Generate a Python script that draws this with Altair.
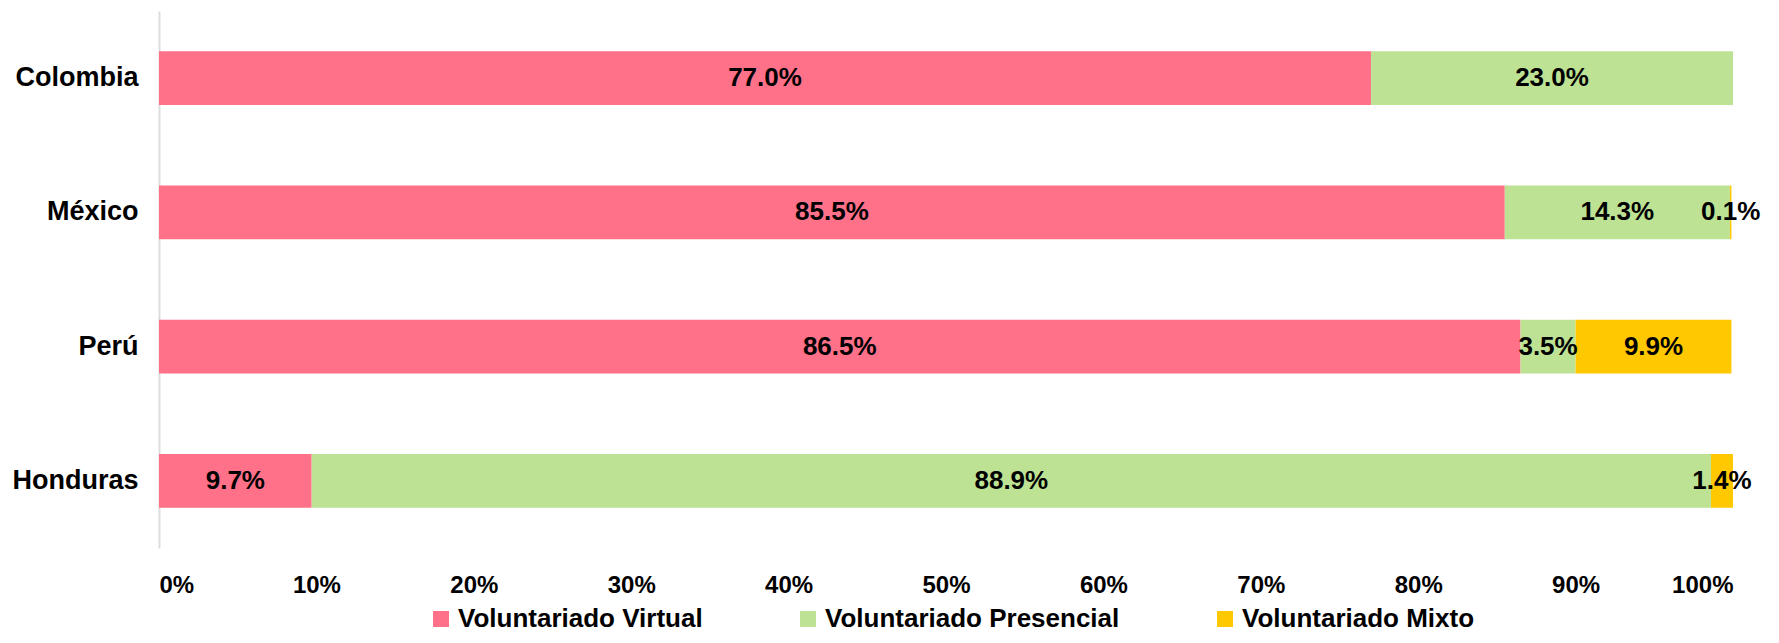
import altair as alt
import pandas as pd

countries = ["Colombia", "México", "Perú", "Honduras"]
series = ["Voluntariado Virtual", "Voluntariado Presencial", "Voluntariado Mixto"]
virtual = [77.0, 85.5, 86.5, 9.7]
presencial = [23.0, 14.3, 3.5, 88.9]
mixto = [0.0, 0.1, 9.9, 1.4]
colors = ["#FF7189", "#BDE294", "#FFC800"]
tick_values = [0, 10, 20, 30, 40, 50, 60, 70, 80, 90, 100]

rows = []
for i, c in enumerate(countries):
    for j, (s, vals) in enumerate(zip(series, [virtual, presencial, mixto])):
        rows.append({"country": c, "series": s, "order": j, "value": vals[i]})
df = pd.DataFrame(rows)

FONT = "Liberation Sans"

y_enc = alt.Y(
    "country:N",
    sort=countries,
    scale=alt.Scale(paddingInner=0.6, paddingOuter=0.3),
    axis=alt.Axis(
        title=None, ticks=False, domainColor="#DDDDDD", domainWidth=2,
        labelPadding=21, labelFontSize=27, labelFont=FONT, labelFontWeight="bold",
        labelColor="#000000", labelLimit=0,
    ),
)

bars = alt.Chart(df).mark_bar().encode(
    y=y_enc,
    x=alt.X(
        "value:Q",
        stack="zero",
        scale=alt.Scale(domain=[0, 100], nice=False),
        axis=alt.Axis(
            title=None, values=tick_values, labelExpr="datum.value + '%'",
            domain=False, ticks=False, grid=False, labelPadding=25,
            labelFontSize=24, labelFont=FONT, labelFontWeight="bold",
            labelColor="#000000",
        ),
    ),
    color=alt.Color(
        "series:N",
        scale=alt.Scale(domain=series, range=colors),
        legend=alt.Legend(
            title=None, orient="none", legendX=269, legendY=595,
            direction="horizontal", symbolType="square", symbolSize=256,
            symbolStrokeWidth=0, labelFontSize=26, labelFont=FONT,
            labelFontWeight="bold", labelColor="#000000", columnPadding=92,
            labelOffset=4, labelLimit=0,
        ),
    ),
    order=alt.Order("order:Q"),
)

labels = alt.Chart(df).transform_window(
    cum="sum(value)", groupby=["country"], sort=[alt.SortField("order")], frame=[None, 0]
).transform_calculate(
    mid="datum.cum - datum.value / 2",
    label="format(datum.value, '.1f') + '%'",
).transform_filter(
    "datum.value > 0"
).mark_text(
    fontSize=26, font=FONT, fontWeight="bold", color="#000000"
).encode(
    y=alt.Y("country:N", sort=countries),
    x=alt.X("mid:Q"),
    text="label:N",
)

chart = alt.layer(bars, labels).properties(
    width=1574, height=537,
    autosize=alt.AutoSizeParams(type="none"),
    padding={"left": 151, "top": 3, "right": 37, "bottom": 87},
).configure_view(stroke=None)

chart.save("out.html", embed_options={"renderer": "svg", "actions": False})
